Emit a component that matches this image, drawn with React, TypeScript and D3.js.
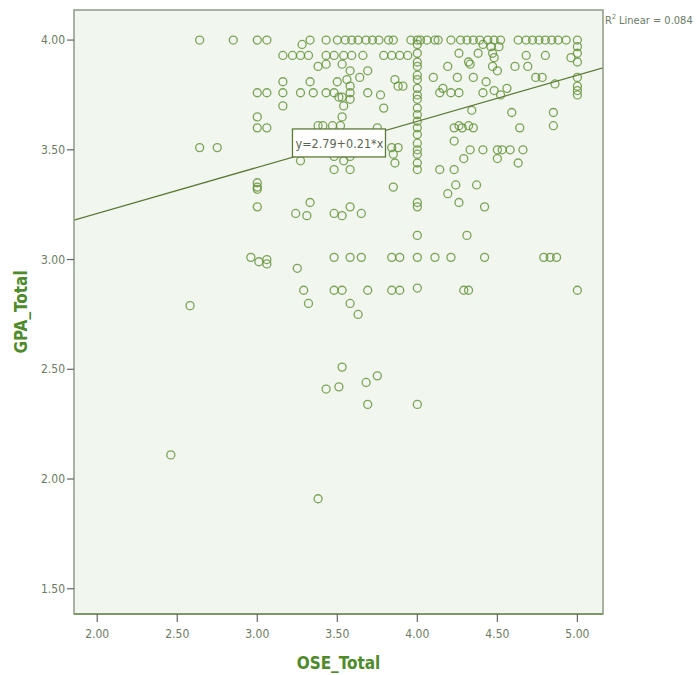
import React, { useEffect, useRef } from 'react';
import * as d3 from 'd3';

// OSE_Total, GPA_Total pairs
const rowsHigh: [number, number][] = [
  [2.64, 4.0], [2.85, 4.0], [3.0, 4.0], [3.06, 4.0], [3.33, 4.0], [3.43, 4.0], [3.5, 4.0], [3.55, 4.0],
  [3.59, 4.0], [3.63, 4.0], [3.68, 4.0], [3.72, 4.0], [3.76, 4.0], [3.82, 4.0], [3.85, 4.0], [3.96, 4.0],
  [4.0, 4.0], [4.02, 4.0], [4.06, 4.0], [4.11, 4.0], [4.13, 4.0], [4.21, 4.0], [4.27, 4.0], [4.31, 4.0],
  [4.35, 4.0], [4.39, 4.0], [4.44, 4.0], [4.48, 4.0], [4.52, 4.0], [4.63, 4.0], [4.68, 4.0], [4.72, 4.0],
  [4.76, 4.0], [4.8, 4.0], [4.84, 4.0], [4.88, 4.0], [4.93, 4.0], [5.0, 4.0],
  [3.28, 3.98], [4.0, 3.98], [4.41, 3.98], [4.46, 3.97], [4.51, 3.97], [5.0, 3.97],
  [3.16, 3.93], [3.22, 3.93], [3.27, 3.93], [3.32, 3.93], [3.43, 3.93], [3.48, 3.93], [3.54, 3.93],
  [3.59, 3.93], [3.66, 3.93], [3.79, 3.93], [3.84, 3.93], [3.89, 3.93], [3.94, 3.93], [4.0, 3.94],
  [4.26, 3.94], [4.38, 3.94], [4.47, 3.94], [4.48, 3.92], [4.68, 3.93], [4.8, 3.93], [4.96, 3.92], [5.0, 3.94],
  [3.38, 3.88], [3.43, 3.89], [3.53, 3.89], [3.58, 3.86], [3.69, 3.86], [4.0, 3.9], [4.0, 3.88], [4.19, 3.88],
  [4.32, 3.9], [4.33, 3.89], [4.47, 3.88], [4.5, 3.86], [4.61, 3.88], [4.69, 3.88], [5.0, 3.9],
  [3.16, 3.81], [3.33, 3.81], [3.5, 3.81], [3.56, 3.82], [3.58, 3.79], [3.64, 3.83], [3.86, 3.82],
  [3.88, 3.79], [3.91, 3.79], [4.0, 3.84], [4.0, 3.82], [4.0, 3.78], [4.1, 3.83], [4.16, 3.78], [4.25, 3.83],
  [4.35, 3.83], [4.43, 3.81], [4.56, 3.78], [4.74, 3.83], [4.78, 3.83], [4.86, 3.8], [5.0, 3.83], [5.0, 3.79],
  [3.0, 3.76], [3.06, 3.76], [3.16, 3.76], [3.27, 3.76], [3.35, 3.76], [3.43, 3.76], [3.48, 3.76],
  [3.51, 3.74], [3.53, 3.74], [3.58, 3.76], [3.69, 3.76], [3.77, 3.75], [4.0, 3.75], [4.14, 3.76],
  [4.21, 3.76], [4.26, 3.76], [4.41, 3.76], [4.48, 3.77], [4.52, 3.75], [5.0, 3.77], [5.0, 3.75],
];

const rowsMid: [number, number][] = [
  [3.58, 3.73], [4.0, 3.73],
  [3.16, 3.7], [3.54, 3.7], [3.79, 3.69], [4.0, 3.69], [4.34, 3.68], [4.59, 3.67], [4.85, 3.67],
  [3.0, 3.65], [3.53, 3.65], [4.0, 3.66],
  [3.0, 3.6], [3.06, 3.6], [3.38, 3.61], [3.41, 3.61], [3.47, 3.61], [3.52, 3.61], [3.75, 3.6],
  [4.0, 3.63], [4.0, 3.6], [4.0, 3.57], [4.23, 3.6], [4.26, 3.61], [4.28, 3.6], [4.32, 3.61],
  [4.35, 3.6], [4.64, 3.6], [4.85, 3.61],
  [4.23, 3.54], [4.0, 3.53], [2.64, 3.51], [2.75, 3.51], [3.84, 3.51], [3.88, 3.51], [4.0, 3.5],
  [4.33, 3.5], [4.41, 3.5], [4.5, 3.5], [4.53, 3.5], [4.58, 3.5], [4.66, 3.5],
  [3.53, 3.49], [3.85, 3.48], [4.0, 3.48], [3.48, 3.47], [3.58, 3.47], [3.54, 3.45], [3.27, 3.45],
  [4.29, 3.46], [4.5, 3.46], [3.86, 3.44], [4.0, 3.44], [4.63, 3.44],
  [3.48, 3.41], [3.58, 3.41], [4.0, 3.41], [4.14, 3.41], [4.23, 3.41],
  [3.0, 3.35], [3.0, 3.33], [3.0, 3.32], [3.85, 3.33], [4.24, 3.34], [4.37, 3.34], [4.19, 3.3],
  [3.0, 3.24], [3.33, 3.26], [3.24, 3.21], [3.31, 3.2], [3.48, 3.21], [3.53, 3.2], [3.58, 3.24],
  [3.65, 3.21], [4.0, 3.26], [4.0, 3.24], [4.26, 3.26], [4.42, 3.24],
];

const rowsLow: [number, number][] = [
  [4.0, 3.11], [4.31, 3.11],
  [2.96, 3.01], [3.01, 2.99], [3.06, 3.0], [3.06, 2.98], [3.25, 2.96], [3.48, 3.01], [3.58, 3.01],
  [3.65, 3.01], [3.84, 3.01], [3.89, 3.01], [4.0, 3.01], [4.11, 3.01], [4.21, 3.01], [4.42, 3.01],
  [4.79, 3.01], [4.83, 3.01], [4.87, 3.01],
  [3.29, 2.86], [3.48, 2.86], [3.53, 2.86], [3.69, 2.86], [3.84, 2.86], [3.89, 2.86], [4.0, 2.87],
  [4.29, 2.86], [4.32, 2.86], [5.0, 2.86],
  [2.58, 2.79], [3.32, 2.8], [3.58, 2.8], [3.63, 2.75],
  [3.53, 2.51], [3.75, 2.47], [3.68, 2.44], [3.51, 2.42], [3.43, 2.41], [3.69, 2.34], [4.0, 2.34],
  [2.46, 2.11], [3.38, 1.91],
];

const xTicks = [2.0, 2.5, 3.0, 3.5, 4.0, 4.5, 5.0];
const yTicks = [1.5, 2.0, 2.5, 3.0, 3.5, 4.0];

// linear fit shown in the chart
const fitIntercept = 2.79;
const fitSlope = 0.21;
const rSquared = 0.084;
const eqAnchor = [3.22, 3.595]; // top-left of the equation box, data units

const narrow = "'Liberation Sans Narrow', 'DejaVu Sans Condensed', 'Arial Narrow', sans-serif";

const App = () => {
  const ref = useRef<HTMLDivElement>(null);

  useEffect(() => {
    d3.select(ref.current).selectAll('*').remove();

    const width = 697;
    const height = 675;
    const left = 74, right = 603, top = 10, bottom = 614;

    const x = d3.scaleLinear().domain([1.855, 5.16]).range([left, right]);
    const y = d3.scaleLinear().domain([1.385, 4.137]).range([bottom, top]);
    const fmt = d3.format('.2f');

    const svg = d3
      .select(ref.current)
      .append('svg')
      .attr('width', width)
      .attr('height', height)
      .style('display', 'block')
      .style('background', '#fff');

    // plot background
    svg
      .append('rect')
      .attr('x', left)
      .attr('y', top)
      .attr('width', right - left)
      .attr('height', bottom - top)
      .attr('fill', '#f1f6ee');

    svg
      .append('clipPath')
      .attr('id', 'plot-clip')
      .append('rect')
      .attr('x', left)
      .attr('y', top)
      .attr('width', right - left)
      .attr('height', bottom - top);

    // points
    const points = [...rowsHigh, ...rowsMid, ...rowsLow];
    svg
      .append('g')
      .selectAll('circle')
      .data(points)
      .enter()
      .append('circle')
      .attr('cx', (d) => x(d[0]))
      .attr('cy', (d) => y(d[1]))
      .attr('r', 4)
      .attr('fill', 'none')
      .attr('stroke', '#5f8f33')
      .attr('stroke-opacity', 0.8)
      .attr('stroke-width', 1.3);

    // fit line
    const [x0, x1] = x.domain();
    const line = d3
      .line<number>()
      .x((v) => x(v))
      .y((v) => y(fitIntercept + fitSlope * v));
    svg
      .append('path')
      .attr('d', line([x0, x1]))
      .attr('clip-path', 'url(#plot-clip)')
      .attr('fill', 'none')
      .attr('stroke', '#5d7a38')
      .attr('stroke-width', 1.3);

    // frame
    svg
      .append('rect')
      .attr('x', left)
      .attr('y', top)
      .attr('width', right - left)
      .attr('height', bottom - top)
      .attr('fill', 'none')
      .attr('stroke', '#8e9a86')
      .attr('stroke-width', 1.5);
    svg
      .append('line')
      .attr('x1', left)
      .attr('x2', right)
      .attr('y1', bottom)
      .attr('y2', bottom)
      .attr('stroke', '#6f8f55')
      .attr('stroke-width', 1.5);

    // y ticks
    const yAxis = svg.append('g');
    yAxis
      .selectAll('line')
      .data(yTicks)
      .enter()
      .append('line')
      .attr('x1', left - 7)
      .attr('x2', left)
      .attr('y1', (d) => y(d))
      .attr('y2', (d) => y(d))
      .attr('stroke', '#666')
      .attr('stroke-width', 1.2);
    yAxis
      .selectAll('text')
      .data(yTicks)
      .enter()
      .append('text')
      .text((d) => fmt(d))
      .attr('x', left - 9)
      .attr('y', (d) => y(d) + 4)
      .attr('text-anchor', 'end')
      .style('font-family', narrow)
      .style('font-size', '12px')
      .style('fill', '#6c7a64');

    // x ticks
    const xAxis = svg.append('g');
    xAxis
      .selectAll('line')
      .data(xTicks)
      .enter()
      .append('line')
      .attr('x1', (d) => x(d))
      .attr('x2', (d) => x(d))
      .attr('y1', bottom)
      .attr('y2', bottom + 8)
      .attr('stroke', '#666')
      .attr('stroke-width', 1.2);
    xAxis
      .selectAll('text')
      .data(xTicks)
      .enter()
      .append('text')
      .text((d) => fmt(d))
      .attr('x', (d) => x(d))
      .attr('y', bottom + 24)
      .attr('text-anchor', 'middle')
      .style('font-family', narrow)
      .style('font-size', '12px')
      .style('fill', '#6c7a64');

    // axis titles
    svg
      .append('text')
      .text('OSE_Total')
      .attr('x', (left + right) / 2)
      .attr('y', 669)
      .attr('text-anchor', 'middle')
      .style('font-family', narrow)
      .style('font-weight', 'bold')
      .style('font-size', '17px')
      .style('fill', '#4f8a2c');
    svg
      .append('text')
      .text('GPA_Total')
      .attr('transform', `translate(27,${(top + bottom) / 2}) rotate(-90)`)
      .attr('text-anchor', 'middle')
      .style('font-family', narrow)
      .style('font-weight', 'bold')
      .style('font-size', '17px')
      .style('fill', '#4f8a2c');

    // equation label
    const eq = svg
      .append('g')
      .attr('transform', `translate(${x(eqAnchor[0])},${y(eqAnchor[1])})`);
    eq.append('rect')
      .attr('width', 93)
      .attr('height', 28)
      .attr('fill', '#fff')
      .attr('stroke', '#5d7a38')
      .attr('stroke-width', 1.3);
    eq.append('text')
      .text(`y=${fitIntercept}+${fitSlope}*x`)
      .attr('x', 3)
      .attr('y', 19)
      .style('font-family', narrow)
      .style('font-size', '12.5px')
      .style('fill', '#5a6652');

    // R² label
    const r2 = svg
      .append('text')
      .attr('x', right + 2)
      .attr('y', 24)
      .style('font-family', narrow)
      .style('font-size', '11px')
      .style('fill', '#6c7a64');
    r2.append('tspan').text('R');
    r2.append('tspan').text('2').attr('dy', -5).style('font-size', '7px');
    r2.append('tspan').text(` Linear = ${rSquared.toFixed(3)}`).attr('dy', 5);
  }, []);

  return <div ref={ref} style={{ position: 'fixed', left: 0, top: 0 }}></div>;
};

export default App;
